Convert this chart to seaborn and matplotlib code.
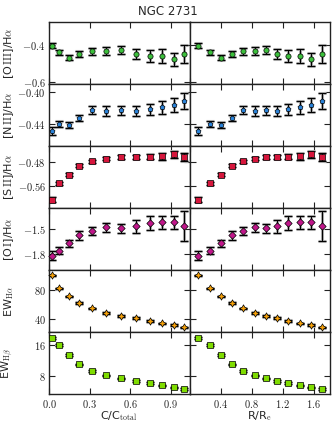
import numpy as np
import pandas as pd
import seaborn as sns
import matplotlib
matplotlib.use("Agg")
import matplotlib.pyplot as plt
from matplotlib.ticker import FuncFormatter, FixedLocator

# x positions of the annuli
c_frac = [0.02, 0.074, 0.144, 0.221, 0.318, 0.424, 0.534, 0.643, 0.75, 0.839, 0.926, 1.0]
r_re = [0.115, 0.26, 0.405, 0.55, 0.695, 0.84, 0.985, 1.13, 1.275, 1.42, 1.565, 1.71]

# line ratios and errors
o3 = [-0.405, -0.440, -0.469, -0.449, -0.435, -0.435, -0.429, -0.449, -0.460, -0.460, -0.478, -0.451]
o3_err = [0.012, 0.014, 0.014, 0.015, 0.02, 0.022, 0.022, 0.025, 0.03, 0.035, 0.036, 0.048]
n2 = [-0.4492, -0.440, -0.442, -0.4328, -0.4227, -0.424, -0.4227, -0.424, -0.4218, -0.4193, -0.4164, -0.411]
n2_err = [0.0053, 0.004, 0.0038, 0.0034, 0.0048, 0.0059, 0.0057, 0.0063, 0.0074, 0.0084, 0.0084, 0.010]
s2 = [-0.6026, -0.5504, -0.5226, -0.4928, -0.479, -0.4704, -0.465, -0.465, -0.465, -0.463, -0.4566, -0.465]
s2_err = [0.0085, 0.005, 0.005, 0.005, 0.005, 0.006, 0.006, 0.007, 0.008, 0.011, 0.011, 0.012]
o1 = [-1.821, -1.759, -1.669, -1.574, -1.521, -1.472, -1.488, -1.463, -1.419, -1.414, -1.414, -1.456]
o1_err = [0.057, 0.041, 0.041, 0.053, 0.053, 0.055, 0.055, 0.076, 0.082, 0.082, 0.085, 0.189]
ew_ha = [100.1, 82.3, 71.4, 62.3, 55.0, 48.6, 44.9, 41.8, 38.1, 34.6, 32.3, 29.1]
ew_ha_err = [1.0] * 12
ew_hb = [17.84, 15.92, 13.4, 11.0, 9.26, 8.17, 7.41, 6.73, 6.21, 5.64, 5.13, 4.7]
ew_hb_err = [0.2] * 12

rows = [
    ("o3", o3, o3_err, r"[O$\,\mathrm{III}$]/H$\alpha$", "o", "#3cbf3c", (-0.61, -0.28), [-0.6, -0.4], "{:.1f}"),
    ("n2", n2, n2_err, r"[N$\,\mathrm{II}$]/H$\alpha$", "p", "#2a82d8", (-0.468, -0.390), [-0.44, -0.40], "{:.2f}"),
    ("s2", s2, s2_err, r"[S$\,\mathrm{II}$]/H$\alpha$", "s", "#d6163c", (-0.63, -0.43), [-0.56, -0.48], "{:.2f}"),
    ("o1", o1, o1_err, r"[O$\,\mathrm{I}$]/H$\alpha$", "D", "#c0168a", (-2.0, -1.237), [-1.8, -1.5], "{:.1f}"),
    ("ewha", ew_ha, ew_ha_err, r"EW$_{\mathrm{H}\alpha}$", (4, 1, 0), "#f5a00a", (22.7, 107.3), [40, 80], "{:.0f}"),
    ("ewhb", ew_hb, ew_hb_err, r"EW$_{\mathrm{H}\beta}$", "s", "#7fdc00", (3.4, 19.3), [8, 16], "{:.0f}"),
]

sns.set_style("ticks")
plt.rcParams["mathtext.fontset"] = "cm"
plt.rcParams["font.family"] = ["DejaVu Sans"]

fig, axes = plt.subplots(6, 2, figsize=(3.36, 4.26), dpi=100, sharex="col", sharey="row")
fig.subplots_adjust(left=0.146, right=0.982, top=0.948, bottom=0.075, hspace=0, wspace=0)

def mfmt(fmt):
    return FuncFormatter(lambda v, p: "$" + fmt.format(v) + "$")

for i, (key, vals, errs, label, marker, color, ylim, yt, fmt) in enumerate(rows):
    for j, xs in enumerate([c_frac, r_re]):
        ax = axes[i, j]
        df = pd.DataFrame({"x": xs, "y": vals, "err": errs})
        ax.errorbar(df["x"], df["y"], yerr=df["err"], fmt="none", ecolor="#b0b0b0",
                    elinewidth=2.2, capsize=3.2, capthick=2.2, zorder=1)
        ax.errorbar(df["x"], df["y"], yerr=df["err"], fmt="none", ecolor="black",
                    elinewidth=0.8, capsize=2.6, capthick=0.8, zorder=2)
        ms = 14 if marker != (4, 1, 0) else 28
        sns.scatterplot(data=df, x="x", y="y", ax=ax, marker=marker, color=color,
                        edgecolor="black", linewidth=0.5, s=ms, zorder=3, legend=False,
                        clip_on=False)
        ax.set_ylim(*ylim)
        ax.yaxis.set_major_locator(FixedLocator(yt))
        ax.yaxis.set_major_formatter(mfmt(fmt))
        ax.set_xlabel("")
        ax.set_ylabel("")
        ax.tick_params(direction="in", top=True, right=True, length=4, width=0.8,
                       labelsize=7.5, colors="#222222", pad=2.5)
        for sp in ax.spines.values():
            sp.set_color("#222222")
            sp.set_linewidth(1.0)
        if j == 0:
            ax.set_ylabel(label, fontsize=8)
            ax.yaxis.set_label_coords(-0.235, 0.5)

axes[0, 0].set_xlim(0, 1.04)
axes[0, 1].set_xlim(0, 1.81)
axes[-1, 0].xaxis.set_major_locator(FixedLocator([0.0, 0.3, 0.6, 0.9]))
axes[-1, 1].xaxis.set_major_locator(FixedLocator([0.0, 0.4, 0.8, 1.2, 1.6]))
axes[-1, 0].xaxis.set_major_formatter(mfmt("{:.1f}"))
axes[-1, 1].xaxis.set_major_formatter(FuncFormatter(lambda v, p: "" if v == 0 else "$%.1f$" % v))
axes[-1, 0].set_xlabel(r"C/C$_{\mathrm{total}}$", fontsize=8, labelpad=0)
axes[-1, 1].set_xlabel(r"R/R$_{\mathrm{e}}$", fontsize=8, labelpad=0)

fig.suptitle("NGC 2731", fontsize=8.5, y=0.988)

fig.savefig("out.png", dpi=100)
